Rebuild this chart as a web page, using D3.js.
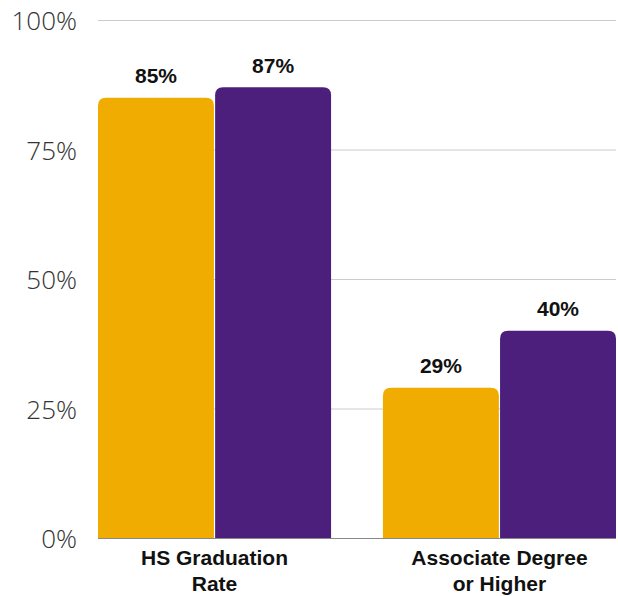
<!DOCTYPE html>
<html><head><meta charset="utf-8">
<script src="https://cdn.jsdelivr.net/npm/d3@7"></script>
<style>body{margin:0;background:#fff}svg{display:block}</style>
</head><body>
<svg id="c" width="618" height="596"></svg>
<script>
const categories = ["HS Graduation|Rate", "Associate Degree|or Higher"];
const seriesA = [85, 29];
const seriesB = [87, 40];
const yTicks = [0, 25, 50, 75, 100];
const colors = ["#F0AC00", "#4B1F7B"];

(function () {
const svg = d3.select("#c");
const mLeft = 98, mRight = 616, mTop = 20, mBottom = 538;
const y = d3.scaleLinear().domain([0, 100]).range([mBottom, mTop]);
const x0 = d3.scaleBand().domain(categories).range([mLeft, mRight]).paddingInner(0.182).paddingOuter(0);
const x1 = d3.scaleBand().domain([0, 1]).range([0, x0.bandwidth()]).paddingInner(0.01);

svg.append("g").selectAll("line").data(yTicks.filter(d => d > 0)).join("line")
  .attr("x1", mLeft).attr("x2", mRight)
  .attr("y1", d => y(d) + 0.5).attr("y2", d => y(d) + 0.5)
  .attr("stroke", "#cccccc").attr("stroke-width", 1);

svg.append("g").selectAll("text").data(yTicks).join("text")
  .attr("x", 77).attr("y", d => y(d) + 10)
  .attr("text-anchor", "end")
  .attr("font-family", "'Open Sans', sans-serif").attr("font-weight", 300)
  .attr("font-size", 26).attr("fill", "#333")
  .text(d => d + "%");

function roundTop(x, yTop, w, h, r) {
  r = Math.min(r, h, w / 2);
  return `M${x},${yTop + h}V${yTop + r}Q${x},${yTop} ${x + r},${yTop}H${x + w - r}Q${x + w},${yTop} ${x + w},${yTop + r}V${yTop + h}Z`;
}

const data = [];
categories.forEach((c, i) => {
  [seriesA[i], seriesB[i]].forEach((v, s) => data.push({ c, s, v }));
});

svg.append("g").selectAll("path").data(data).join("path")
  .attr("d", d => {
    const bx = x0(d.c) + x1(d.s);
    return roundTop(bx, y(d.v), x1.bandwidth(), mBottom - y(d.v), 8);
  })
  .attr("fill", d => colors[d.s]);

svg.append("g").selectAll("text").data(data).join("text")
  .attr("x", d => x0(d.c) + x1(d.s) + x1.bandwidth() / 2)
  .attr("y", d => y(d.v) - 14.5)
  .attr("text-anchor", "middle")
  .attr("font-family", "'Liberation Sans', Arial, sans-serif").attr("font-weight", "bold")
  .attr("font-size", 21).attr("fill", "#111")
  .text(d => d.v + "%");

svg.append("line").attr("x1", mLeft).attr("x2", mRight)
  .attr("y1", mBottom + 0.5).attr("y2", mBottom + 0.5)
  .attr("stroke", "#888").attr("stroke-width", 1);

const xl = svg.append("g").selectAll("text").data(categories).join("text")
  .attr("x", d => x0(d) + x0.bandwidth() / 2)
  .attr("y", 565)
  .attr("text-anchor", "middle")
  .attr("font-family", "'Liberation Sans', Arial, sans-serif").attr("font-weight", "bold")
  .attr("font-size", 21).attr("fill", "#111");
xl.each(function (d) {
  const parts = d.split("|");
  d3.select(this).selectAll("tspan").data(parts).join("tspan")
    .attr("x", x0(d) + x0.bandwidth() / 2)
    .attr("dy", (p, i) => i === 0 ? 0 : 26)
    .text(p => p);
});
})();
</script>
</body></html>
